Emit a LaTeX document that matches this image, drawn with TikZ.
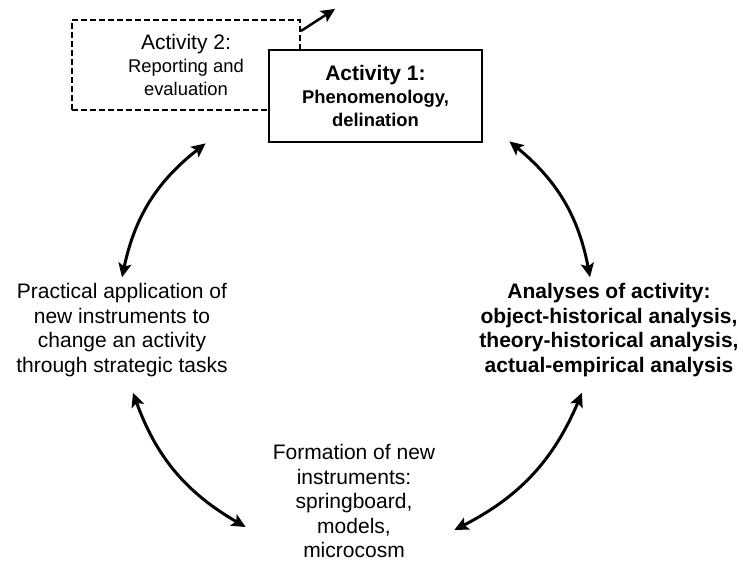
\documentclass[tikz,border=0pt]{standalone}
\usepackage{fontspec}
\setmainfont{Liberation Sans}
\usepackage{tikz}
\usetikzlibrary{shapes,arrows.meta,positioning,calc}

\newcommand{\bigline}{\fontsize{21}{24.5}\selectfont}
\newcommand{\subline}{\fontsize{18.4}{23}\selectfont}

\begin{document}
\begin{tikzpicture}[x=1pt,y=-1pt,
  >={Stealth[length=14pt,width=13pt,inset=3pt]},
  arc/.style={<->,line width=3pt,black},
  stage/.style={align=center,inner sep=0pt,font=\bigline}]
\useasboundingbox (0,0) rectangle (743,566);

% Activity boxes at the top
\node[draw,dash pattern=on 6pt off 3pt,line width=2.2pt,minimum width=228pt,minimum height=90pt,
  align=center,font=\subline] (act2) at (186,65) {{\bigline Activity 2:}\\Reporting and\\evaluation};
\node[draw,fill=white,line width=2.8pt,minimum width=213pt,minimum height=92pt,
  align=center,font=\subline\bfseries] (act1) at (375.5,96) {{\bigline\bfseries Activity 1:}\\Phenomenology,\\delination};
\draw[->,line width=2.5pt] ($(act2.north east)+(0,12)$) -- ++(34,-22);

% Stages of the cycle
\node[stage] (practical) at (122,330) {Practical application of\\new instruments to\\change an activity\\through strategic tasks};
\node[stage,font=\bigline\bfseries] (analyses) at (609,330) {Analyses of activity:\\object-historical analysis,\\theory-historical analysis,\\actual-empirical analysis};
\node[stage] (formation) at (354,501) {Formation of new\\instruments:\\springboard,\\models,\\microcosm};

% Double arrows round the cycle
\draw[arc] ($(act1.south west)+(-62,0)$) to[bend right=20] ($(practical.north)+(0,-6)$);
\draw[arc] ($(act1.south east)+(26,-2)$) to[bend left=20] ($(analyses.north)+(-19,-6)$);
\draw[arc] ($(practical.south)+(11,16)$) to[bend right=20] ($(formation.west)+(-27,26)$);
\draw[arc] ($(formation.east)+(19,29)$) to[bend right=20] ($(analyses.south)+(-27,16)$);
\end{tikzpicture}
\end{document}
